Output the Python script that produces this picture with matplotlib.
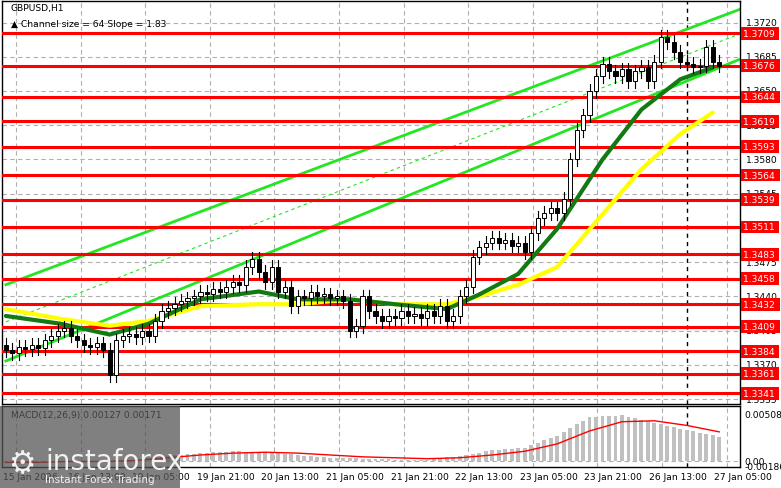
import numpy as np
import matplotlib.pyplot as plt
from matplotlib.patches import Rectangle

# closes, one per hourly bar (open = previous close)
closes = [1.3385, 1.3382, 1.3388, 1.3386, 1.3390, 1.3387, 1.3395, 1.3400, 1.3405,
          1.3408, 1.3400, 1.3395, 1.3390,
          1.3388, 1.3392, 1.3385, 1.3360,
          1.3395,
          1.3400, 1.3402, 1.3398, 1.3405, 1.3400,
          1.3415, 1.3425, 1.3428, 1.3432, 1.3435, 1.3438,
          1.3440, 1.3445, 1.3442, 1.3448, 1.3445, 1.3450, 1.3455, 1.3452,
          1.3470, 1.3478, 1.3465,
          1.3455, 1.3470, 1.3445, 1.3450,
          1.3430, 1.3440, 1.3438, 1.3445, 1.3440, 1.3442, 1.3438, 1.3440, 1.3435,
          1.3405, 1.3410, 1.3440,
          1.3425, 1.3420,
          1.3415, 1.3420, 1.3418, 1.3425, 1.3420, 1.3422, 1.3418, 1.3425, 1.3420, 1.3430, 1.3415,
          1.3420, 1.3440, 1.3450,
          1.3480, 1.3490, 1.3495,
          1.3500, 1.3495, 1.3498, 1.3492, 1.3495, 1.3485,
          1.3505, 1.3520, 1.3525,
          1.3530, 1.3525, 1.3540,
          1.3580, 1.3610, 1.3625,
          1.3650, 1.3665,
          1.3678, 1.3670, 1.3665, 1.3672, 1.3660, 1.3670, 1.3675, 1.3660, 1.3680,
          1.3705, 1.3700, 1.3690,
          1.3680, 1.3678, 1.3675, 1.3676, 1.3695,
          1.3680, 1.3676]
first_open = 1.3390

# moving averages read at a few bars
ma_idx = [0, 8.5, 16, 22, 30, 39, 45, 53, 60, 68, 73, 79, 85, 92, 98, 104, 109]
ma_green = [1.3420, 1.3412, 1.3401, 1.3412, 1.3437, 1.3445, 1.3437, 1.3437, 1.3432,
            1.3427, 1.3442, 1.3463, 1.3509, 1.3580, 1.3631, 1.3662, 1.3674]
ma_yellow = [1.3427, 1.3417, 1.3410, 1.3415, 1.3430, 1.3432, 1.3432, 1.3437, 1.3432,
             1.3432, 1.3440, 1.3452, 1.3470, 1.3524, 1.3570, 1.3606, 1.3628]

levels = [1.3709, 1.3676, 1.3644, 1.3619, 1.3593, 1.3564, 1.3539, 1.3511,
          1.3483, 1.3458, 1.3432, 1.3409, 1.3384, 1.3361, 1.3341]
price_ticks = [1.3720, 1.3685, 1.3650, 1.3615, 1.3580, 1.3545, 1.3510, 1.3475,
               1.3440, 1.3405, 1.3370, 1.3335]
time_labels = ['15 Jan 2026', '16 Jan 13:00', '19 Jan 05:00', '19 Jan 21:00',
               '20 Jan 13:00', '21 Jan 05:00', '21 Jan 21:00', '22 Jan 13:00',
               '23 Jan 05:00', '23 Jan 21:00', '26 Jan 13:00', '27 Jan 05:00']

# MACD histogram, every 5th bar, and signal line
macd_idx = list(range(0, 111, 5))
macd_hist = [-0.0002, 0.0000, 0.0001, -0.0001, 0.0002, 0.0006, 0.0009, 0.0011, 0.0010,
             0.0007, 0.0004, 0.0003, 0.0002, 0.0002, 0.0006, 0.0012, 0.0015, 0.0028,
             0.0048, 0.0050, 0.0042, 0.0034, 0.0027]
macd_sig = [-0.0001, -0.0001, 0.0000, 0.0000, 0.0001, 0.0004, 0.0007, 0.0009, 0.0010,
            0.0009, 0.0007, 0.0005, 0.0004, 0.0003, 0.0004, 0.0007, 0.0011, 0.0019,
            0.0033, 0.0043, 0.0044, 0.0039, 0.0032]

W, H = 781, 489
FS = 6.6
fig = plt.figure(figsize=(W / 100, H / 100), dpi=100)
ax = fig.add_axes([2 / W, (H - 405) / H, 738 / W, 403 / H])
mx = fig.add_axes([2 / W, (H - 468) / H, 738 / W, 61 / H])

x0, x1 = -0.6, 113.2
ax.set_xlim(x0, x1)
ax.set_ylim(1.3330, 1.3742)
mx.set_xlim(x0, x1)
mx.set_ylim(-0.0006, 0.0060)

def px2bar(px):
    return x0 + (px - 2) / 738 * (x1 - x0)

# grid
grid_x = [px2bar(3 + 64.6 * k + 13) for k in range(len(time_labels))]
for a in (ax, mx):
    for g in grid_x:
        a.axvline(g, color='#b0b0b0', ls=(0, (4, 3)), lw=0.8, zorder=0)
for t in price_ticks:
    ax.axhline(t, color='#b0b0b0', ls=(0, (4, 3)), lw=0.8, zorder=0)
mx.axhline(0, color='#b0b0b0', ls=(0, (4, 3)), lw=0.8, zorder=0)
ax.axvline(105, color='black', ls=(0, (3, 3)), lw=1, zorder=1)
mx.axvline(105, color='black', ls=(0, (3, 3)), lw=1, zorder=1)

# channel
ax.plot([0, 115.4], [1.3452, 1.3739], color='#22e622', lw=2, zorder=2)
ax.plot([0, 113], [1.3374, 1.3682], color='#22e622', lw=2, zorder=2)
ax.plot([0, 113], [1.3414, 1.3708], color='#22e622', lw=0.8, ls=(0, (3, 3)), zorder=2)

# levels
for lv in levels:
    ax.axhline(lv, color='#ff0000', lw=2.2, zorder=3)

# MAs
ax.plot(ma_idx, ma_yellow, color='#ffff00', lw=3, zorder=4, solid_capstyle='round')
ax.plot(ma_idx, ma_green, color='#137a13', lw=3, zorder=4, solid_capstyle='round')

# candles
opens = [first_open] + closes[:-1]
for i, (o, c) in enumerate(zip(opens, closes)):
    hi, lo = max(o, c) + 0.0007, min(o, c) - 0.0007
    ax.plot([i, i], [lo, hi], color='black', lw=0.8, zorder=5)
    b = max(abs(c - o), 0.00005)
    ax.add_patch(Rectangle((i - 0.32, min(o, c)), 0.64, b, facecolor='white' if c >= o else 'black',
                           edgecolor='black', lw=0.7, zorder=6))

# axes styling
for a in (ax, mx):
    a.set_xticks([])
    a.set_yticks([])
    for s in a.spines.values():
        s.set_color('black')
        s.set_linewidth(1)

for t in price_ticks:
    ax.text(1.008, t, f'{t:.4f}', transform=ax.get_yaxis_transform(), va='center',
            ha='left', fontsize=FS, color='black')
for lv in levels:
    ax.text(1.004, lv, f'{lv:.4f} ', transform=ax.get_yaxis_transform(), va='center',
            ha='left', fontsize=FS, color='white', zorder=10,
            bbox=dict(boxstyle='square,pad=0.2', facecolor='#ff0000', edgecolor='none'))
for y, s in [(0.00508, '0.00508'), (0.0, '0.00'), (-0.0005, '-0.00186')]:
    mx.text(1.006, y, s, transform=mx.get_yaxis_transform(), va='center', ha='left',
            fontsize=FS, color='black')

ax.text(0.012, 0.995, 'GBPUSD,H1', transform=ax.transAxes, va='top', fontsize=FS)
ax.text(0.012, 0.955, '\u25b2 Channel size = 64 Slope = 1.83', transform=ax.transAxes,
        va='top', fontsize=FS)

# MACD
hx = np.arange(0, 111)
hv = np.interp(hx, macd_idx, macd_hist)
mx.bar(hx, hv, width=0.6, color='#c0c0c0', zorder=2)
mx.plot(macd_idx, macd_sig, color='#ff0000', lw=1, zorder=3)
mx.text(0.012, 0.93, 'MACD(12,26,9) 0.00127 0.00171', transform=mx.transAxes, va='top', fontsize=FS)

for k, lab in enumerate(time_labels):
    fig.text((3 + 64.6 * k) / W, 1 - 478 / H, lab, fontsize=FS, va='center', ha='left')

# watermark
fig.patches.append(Rectangle((0, 0), 180 / W, 82 / H, transform=fig.transFigure,
                             facecolor='#555555', alpha=0.75, edgecolor='none', zorder=20))
fig.text(45 / W, 1 - 462 / H, 'instaforex', fontsize=20, color='white', alpha=0.9,
         va='center', zorder=21)
fig.text(45 / W, 1 - 480 / H, 'Instant Forex Trading', fontsize=7.5, color='white', alpha=0.9,
         va='center', zorder=21)
fig.text(22 / W, 1 - 465 / H, '\u2699', fontsize=22, color='white', alpha=0.9,
         va='center', ha='center', zorder=21)

fig.savefig('out.png', dpi=100)
